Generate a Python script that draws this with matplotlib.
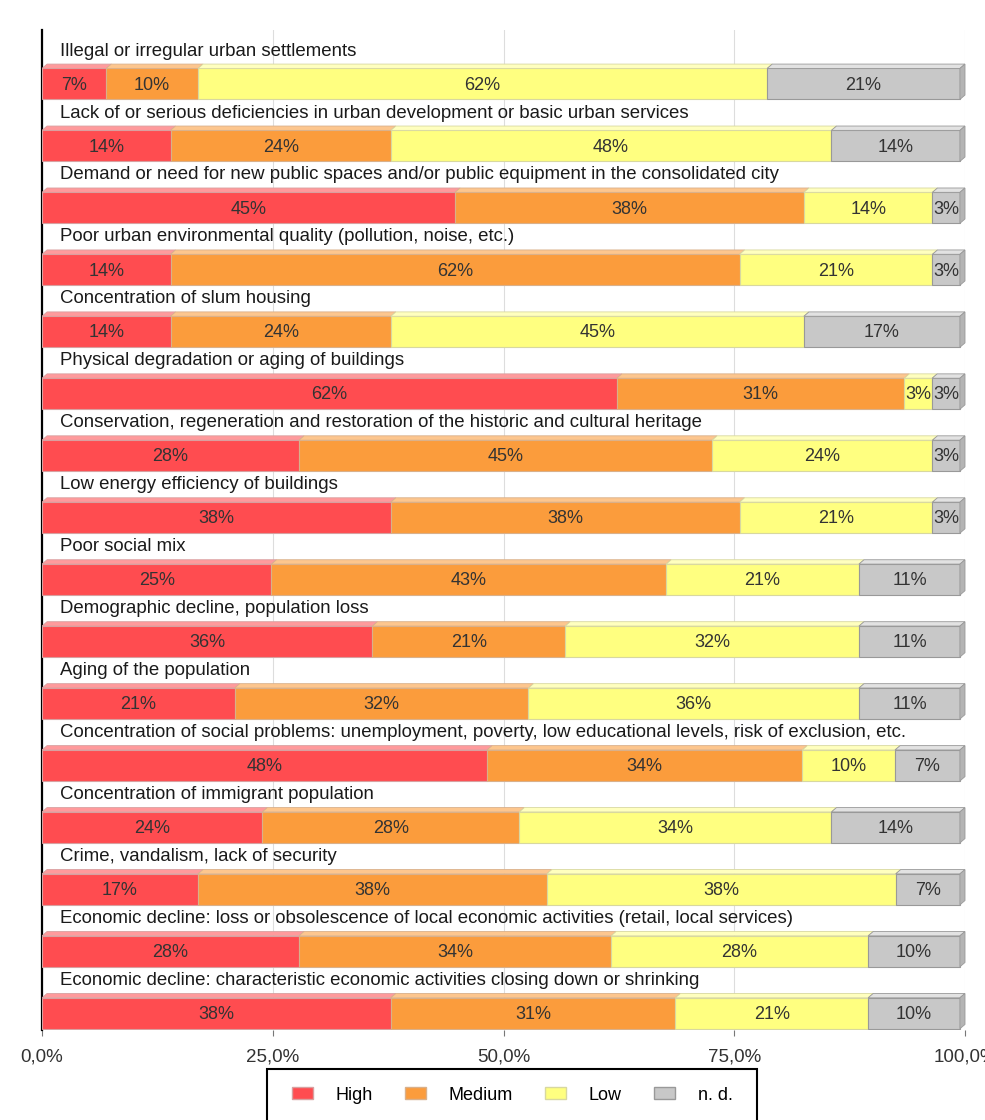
import numpy as np
import matplotlib
matplotlib.use('Agg')
import matplotlib.pyplot as plt
from matplotlib.patches import Polygon, Patch, Rectangle

plt.rcParams['font.family'] = ['Liberation Sans', 'DejaVu Sans']

categories = [
    "Illegal or irregular urban settlements",
    "Lack of or serious deficiencies in urban development or basic urban services",
    "Demand or need for new public spaces and/or public equipment in the consolidated city",
    "Poor urban environmental quality (pollution, noise, etc.)",
    "Concentration of slum housing",
    "Physical degradation or aging of buildings",
    "Conservation, regeneration and restoration of the historic and cultural heritage",
    "Low energy efficiency of buildings",
    "Poor social mix",
    "Demographic decline, population loss",
    "Aging of the population",
    "Concentration of social problems: unemployment, poverty, low educational levels, risk of exclusion, etc.",
    "Concentration of immigrant population",
    "Crime, vandalism, lack of security",
    "Economic decline: loss or obsolescence of local economic activities (retail, local services)",
    "Economic decline: characteristic economic activities closing down or shrinking",
]
high   = [7, 14, 45, 14, 14, 62, 28, 38, 25, 36, 21, 48, 24, 17, 28, 38]
medium = [10, 24, 38, 62, 24, 31, 45, 38, 43, 21, 32, 34, 28, 38, 34, 31]
low    = [62, 48, 14, 21, 45, 3, 24, 21, 21, 32, 36, 10, 34, 38, 28, 21]
nd     = [21, 14, 3, 3, 17, 3, 3, 3, 11, 11, 11, 7, 14, 7, 10, 10]
series_names = ["High", "Medium", "Low", "n. d."]
tick_labels = ["0,0%", "25,0%", "50,0%", "75,0%", "100,0%"]

colors = ['#ff4c50', '#fb9c3c', '#ffff80', '#c8c8c8']
tops = ['#ff9a9c', '#fdc68e', '#ffffbf', '#e2e2e2']
edges = ['#d8a0a0', '#d9b08a', '#d8d8a0', '#999999']

data = np.array([high, medium, low, nd], dtype=float)
depth_x = 0.55
depth_y = 0.07
bar_h = 0.5
# scale each row so bar front + side face fills 100%
widths = data / data.sum(axis=0) * (100 - depth_x)

fig = plt.figure(figsize=(9.85, 11.2), dpi=100)
ax = fig.add_axes([42/985, 1 - 1030/1120, 923/985, 1000/1120])
ax.set_xlim(0, 100)
ax.set_ylim(15.27, -0.87)

y = np.arange(len(categories))
left = np.zeros(len(categories))
for k in range(4):
    ax.barh(y, widths[k], left=left, height=bar_h, color=colors[k],
            edgecolor=edges[k], linewidth=0.8, zorder=3)
    for i in range(len(categories)):
        x0, x1 = left[i], left[i] + widths[k][i]
        yt = y[i] - bar_h / 2
        ax.add_patch(Polygon([(x0, yt), (x1, yt), (x1 + depth_x, yt - depth_y), (x0 + depth_x, yt - depth_y)],
                             closed=True, facecolor=tops[k], edgecolor=edges[k], linewidth=0.6, zorder=3))
        ax.text((x0 + x1) / 2, y[i] + 0.02, f"{int(data[k][i])}%", ha='center', va='center',
                fontsize=13, color='#333333', zorder=5)
    left = left + widths[k]

# right side face of last segment
for i in range(len(categories)):
    x1 = left[i]
    yt = y[i] - bar_h / 2
    ax.add_patch(Polygon([(x1, yt), (x1, yt + bar_h), (x1 + depth_x, yt + bar_h - depth_y), (x1 + depth_x, yt - depth_y)],
                         closed=True, facecolor='#b4b4b4', edgecolor='#999999', linewidth=0.6, zorder=3, clip_on=False))

for i, name in enumerate(categories):
    ax.text(1.9, y[i] - 0.53, name, ha='left', va='center', fontsize=13.4, color='#1a1a1a', zorder=4)

ax.set_yticks([])
ax.set_xticks([0, 25, 50, 75, 100])
ax.set_xticklabels(tick_labels, fontsize=13.5, color='#333333')
ax.tick_params(axis='x', length=4, color='#777777', pad=9)
ax.grid(axis='x', color='#dddddd', linewidth=0.8, zorder=0)
ax.set_axisbelow(True)
for s in ['top', 'right', 'bottom']:
    ax.spines[s].set_visible(False)
ax.spines['left'].set_color('black')
ax.spines['left'].set_linewidth(1.6)

# legend frame (runs off the bottom edge like the original)
fig.patches.append(Rectangle((267/985, -0.01), 490/985, 1 - 1069/1120 + 0.01, transform=fig.transFigure,
                             fill=False, edgecolor='black', linewidth=1.5))
handles = [Patch(facecolor=colors[k], edgecolor=edges[k], label=series_names[k]) for k in range(4)]
leg = fig.legend(handles=handles, loc='center', bbox_to_anchor=(512/985, 1 - 1095/1120), ncol=4,
                 fontsize=13, frameon=False, borderaxespad=0,
                 handlelength=1.16, handleheight=0.66, columnspacing=1.77, handletextpad=1.27)

fig.savefig('out.png', dpi=100)
